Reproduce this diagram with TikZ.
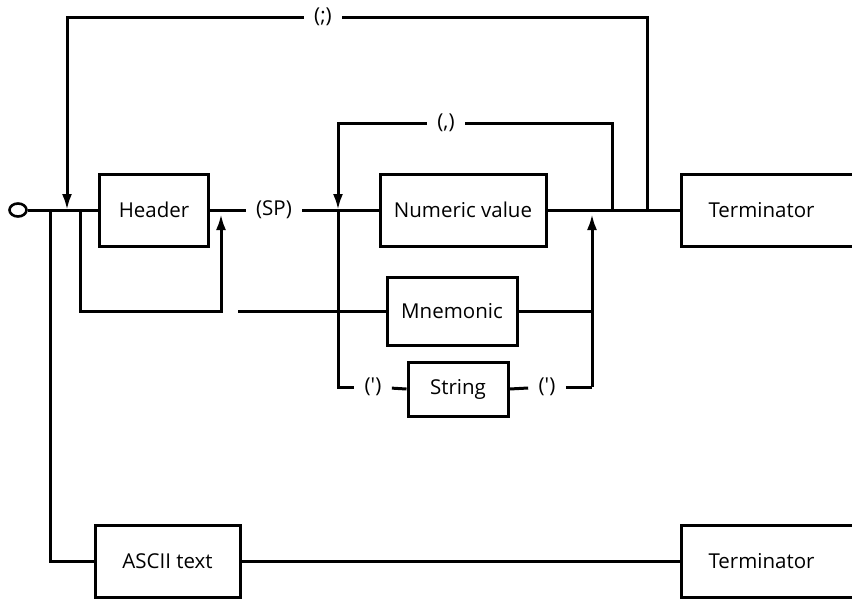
\documentclass[tikz,border=0pt]{standalone}
\usepackage{fontspec}
\setmainfont{Open Sans}
\usetikzlibrary{shapes.geometric, arrows.meta, positioning}

\begin{document}
\begin{tikzpicture}[
  x=1pt, y=-1pt,
  line width=3pt,
  box/.style={draw, font=\fontsize{20.5}{24}\selectfont, minimum height=72pt, inner sep=0pt},
  term/.style={draw, font=\fontsize{20.5}{24}\selectfont, minimum height=72pt, text width=200pt, inner xsep=27pt, inner ysep=0pt, align=left, anchor=west},
  lbl/.style={font=\fontsize{20.5}{24}\selectfont, inner xsep=9pt, inner ysep=0pt},
  arr/.style={-{Latex[length=16pt,width=10pt]}}
]
\clip (0,0) rectangle (852,598);

% Entry point
\node[draw, ellipse, minimum width=17pt, minimum height=13pt, inner sep=0pt, line width=2.6pt] (start) at (18,210) {};
\coordinate (j1) at (50,210);
\coordinate (j2) at (67,210);
\coordinate (j3) at (80,210);

% Header and separator
\node[box, minimum width=109pt] (header) at (154,210) {Header};
\node[lbl] (sp) at (274,210) {(SP)};
\coordinate (j4) at (338,210);

% Parameter alternatives
\node[box, minimum width=166pt] (numeric) at (463,210) {Numeric value};
\node[box, minimum width=130pt, minimum height=68pt] (mnem) at (452,311) {Mnemonic};
\node[box, minimum width=100pt, minimum height=54pt] (string) at (458,389) {String};
\node[lbl] (q1) at (373,387) {(\textquotesingle)};
\node[lbl] (q2) at (547,387) {(\textquotesingle)};

% Loops back
\coordinate (j5) at (612,210);
\coordinate (j6) at (647,210);
\node[lbl] (comma) at (446,123) {(,)};
\node[lbl] (semi) at (323,17) {(;)};

% Terminators
\node[term] (term1) at (680,210) {Terminator};
\node[box, minimum width=145pt] (ascii) at (167.5,561) {ASCII text};
\node[term] (term2) at (680,561) {Terminator};

% Main line
\draw (start) -- (header.west);
\draw (header.east) -- (sp);
\draw (sp) -- (numeric.west);
\draw (numeric.east) -- (term1.west);

% Header bypass
\draw[arr] (j3) -- (80,311) -- (221,311) -- (221,214);

% Mnemonic and string paths
\draw (238,311) -- (mnem.west);
\draw (mnem.east) -- (592,311);
\draw[arr] (592,387) -- (592,214);
\draw (j4) |- (q1);
\draw (q1) -- (string.west);
\draw (string.east) -- (q2);
\draw (q2) -- (592,387);

% Repeat loops
\draw (j5) |- (comma);
\draw[arr] (comma) -| (j4);
\draw (j6) |- (semi);
\draw[arr] (semi) -| (j2);

% ASCII branch
\draw (j1) |- (ascii.west);
\draw (ascii.east) -- (term2.west);
\end{tikzpicture}
\end{document}
